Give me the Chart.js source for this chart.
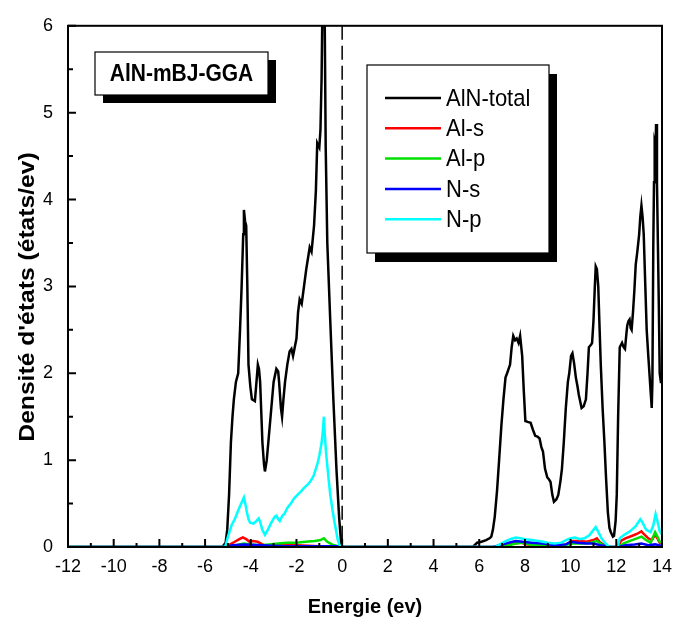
<!DOCTYPE html>
<html>
<head>
<meta charset="utf-8">
<script src="https://cdn.jsdelivr.net/npm/chart.js@4.4.1/dist/chart.umd.min.js"></script>
<style>
  html, body { margin: 0; padding: 0; background: #fff; }
  #wrap { width: 682px; height: 624px; position: relative; }
</style>
</head>
<body>
<div id="wrap"><canvas id="dos"></canvas></div>
<script>
// Density of states of AlN (mBJ-GGA): [energy (eV), DOS]
const totalDos = [
  [-12, 0], [-5.25, 0], [-5.1, 0.05], [-5.03, 0.2], [-4.95, 0.6], [-4.87, 1.2], [-4.8, 1.5],
  [-4.74, 1.7], [-4.65, 1.9], [-4.55, 2.0], [-4.47, 2.5], [-4.4, 3.0], [-4.33, 3.6], [-4.3, 3.88],
  [-4.25, 3.75], [-4.2, 3.7], [-4.15, 3.0], [-4.1, 2.1], [-4.02, 1.85], [-3.95, 1.7], [-3.82, 1.68],
  [-3.75, 1.9], [-3.69, 2.1], [-3.64, 2.05], [-3.59, 1.9], [-3.49, 1.2], [-3.42, 0.95], [-3.38, 0.87],
  [-3.3, 1.0], [-3.2, 1.3], [-3.1, 1.6], [-3.0, 1.9], [-2.88, 2.05], [-2.8, 2.02], [-2.76, 1.9],
  [-2.68, 1.6], [-2.63, 1.5], [-2.57, 1.7], [-2.5, 1.9], [-2.4, 2.1], [-2.3, 2.25], [-2.22, 2.28],
  [-2.15, 2.2], [-2.0, 2.4], [-1.93, 2.7], [-1.86, 2.85], [-1.77, 2.8], [-1.67, 3.0], [-1.57, 3.2],
  [-1.48, 3.35], [-1.42, 3.45], [-1.34, 3.4], [-1.23, 3.7], [-1.15, 4.1], [-1.09, 4.65], [-1.0, 4.6],
  [-0.95, 4.8], [-0.9, 5.4], [-0.86, 6.3], [-0.77, 6.3], [-0.72, 4.6], [-0.65, 3.5], [-0.52, 2.6],
  [-0.38, 1.67], [-0.25, 0.9], [-0.13, 0.33], [-0.03, 0],
  [5.72, 0], [5.91, 0.05], [6.1, 0.06], [6.3, 0.08], [6.45, 0.1], [6.53, 0.12], [6.6, 0.2],
  [6.68, 0.35], [6.78, 0.65], [6.87, 1.0], [6.97, 1.4], [7.06, 1.7], [7.15, 1.95], [7.22, 2.0],
  [7.35, 2.1], [7.42, 2.3], [7.49, 2.43], [7.57, 2.38], [7.64, 2.4], [7.72, 2.35], [7.79, 2.43],
  [7.88, 2.2], [7.95, 1.8], [8.02, 1.45], [8.12, 1.44], [8.25, 1.43], [8.35, 1.35], [8.45, 1.28],
  [8.55, 1.27], [8.64, 1.25], [8.72, 1.15], [8.79, 1.1], [8.88, 0.9], [8.98, 0.8], [9.05, 0.78],
  [9.12, 0.75], [9.2, 0.6], [9.27, 0.52], [9.38, 0.55], [9.46, 0.6], [9.55, 0.75], [9.62, 0.9],
  [9.7, 1.2], [9.79, 1.6], [9.88, 1.9], [9.94, 2.0], [10.02, 2.2], [10.08, 2.23], [10.15, 2.12],
  [10.23, 1.95], [10.3, 1.85], [10.36, 1.75], [10.48, 1.6], [10.57, 1.62], [10.67, 1.7], [10.74, 2.0],
  [10.8, 2.3], [10.9, 2.33], [10.94, 2.35], [11.0, 2.6], [11.06, 3.0], [11.1, 3.23], [11.15, 3.2],
  [11.21, 3.0], [11.27, 2.5], [11.32, 2.1], [11.4, 1.6], [11.48, 1.2], [11.55, 0.8], [11.63, 0.4],
  [11.7, 0.22], [11.76, 0.17], [11.85, 0.12], [11.9, 0.13], [11.97, 0.3], [12.02, 0.6], [12.08, 1.5],
  [12.15, 2.3], [12.25, 2.35], [12.32, 2.3], [12.38, 2.28], [12.44, 2.45], [12.48, 2.55], [12.53, 2.6],
  [12.58, 2.62], [12.63, 2.52], [12.67, 2.5], [12.73, 2.7], [12.79, 2.95], [12.85, 3.25], [12.92, 3.4],
  [13.0, 3.6], [13.05, 3.8], [13.1, 3.93], [13.15, 3.8], [13.2, 3.6], [13.27, 3.0], [13.33, 2.5],
  [13.4, 2.2], [13.45, 2.0], [13.5, 1.8], [13.55, 1.6], [13.58, 1.9], [13.62, 3.5], [13.65, 4.2],
  [13.68, 4.65], [13.72, 4.6], [13.74, 4.87], [13.78, 4.2], [13.82, 3.5], [13.86, 2.8], [13.9, 2.0],
  [13.95, 1.9], [14, 1.9]
];
const alSDos = [
  [-12, 0], [-5.05, 0], [-4.9, 0.03], [-4.7, 0.06], [-4.5, 0.09], [-4.35, 0.11], [-4.2, 0.09],
  [-4.05, 0.06], [-3.9, 0.07], [-3.7, 0.06], [-3.55, 0.04], [-3.4, 0.02], [-3.0, 0.02], [-2.5, 0.02],
  [-2.0, 0.02], [-1.5, 0.015], [-1.0, 0.01], [-0.5, 0.01], [-0.15, 0],
  [6.9, 0], [7.2, 0.02], [7.5, 0.04], [7.8, 0.05], [8.1, 0.03], [8.6, 0.02], [9.2, 0.01], [9.8, 0.03],
  [10.1, 0.07], [10.4, 0.07], [10.7, 0.06], [11.0, 0.08], [11.15, 0.1], [11.3, 0.05], [11.5, 0.02],
  [11.7, 0], [12.1, 0], [12.2, 0.07], [12.4, 0.1], [12.7, 0.13], [12.9, 0.15], [13.1, 0.18],
  [13.2, 0.15], [13.4, 0.1], [13.55, 0.08], [13.7, 0.14], [13.8, 0.1], [13.9, 0.05], [14, 0.04]
];
const alPDos = [
  [-12, 0], [-5.05, 0], [-4.8, 0.01], [-4.5, 0.03], [-4.3, 0.04], [-4.0, 0.03], [-3.6, 0.02],
  [-3.2, 0.03], [-2.8, 0.04], [-2.4, 0.05], [-2.0, 0.05], [-1.6, 0.06], [-1.2, 0.07], [-0.95, 0.08],
  [-0.8, 0.1], [-0.65, 0.06], [-0.45, 0.03], [-0.2, 0.01], [-0.05, 0],
  [7.0, 0], [7.3, 0.02], [7.6, 0.04], [7.9, 0.05], [8.2, 0.03], [8.6, 0.02], [9.2, 0.01], [9.7, 0.02],
  [10.1, 0.04], [10.5, 0.04], [10.9, 0.05], [11.15, 0.07], [11.3, 0.04], [11.5, 0.01], [11.7, 0],
  [12.1, 0], [12.3, 0.04], [12.6, 0.07], [12.9, 0.1], [13.1, 0.12], [13.3, 0.08], [13.5, 0.05],
  [13.7, 0.17], [13.8, 0.12], [13.9, 0.06], [14, 0.05]
];
const nSDos = [
  [-12, 0], [-5.05, 0], [-4.8, 0.02], [-4.3, 0.03], [-3.5, 0.02], [-2.5, 0.01], [-1.0, 0.01],
  [-0.2, 0.01], [-0.05, 0],
  [6.6, 0], [6.9, 0.02], [7.3, 0.05], [7.6, 0.07], [7.9, 0.06], [8.3, 0.05], [8.8, 0.04], [9.3, 0.02],
  [9.8, 0.03], [10.0, 0.06], [10.3, 0.05], [10.7, 0.04], [11.0, 0.04], [11.3, 0.02], [11.6, 0.01],
  [11.75, 0], [12.1, 0], [12.4, 0.02], [12.8, 0.03], [13.1, 0.04], [13.4, 0.02], [13.7, 0.03], [14, 0.01]
];
const nPDos = [
  [-12, 0], [-5.12, 0], [-5.0, 0.12], [-4.84, 0.25], [-4.7, 0.32], [-4.55, 0.42], [-4.42, 0.5],
  [-4.3, 0.57], [-4.24, 0.5], [-4.17, 0.4], [-4.1, 0.32], [-4.03, 0.28], [-3.88, 0.27], [-3.75, 0.3],
  [-3.65, 0.33], [-3.58, 0.28], [-3.5, 0.2], [-3.38, 0.14], [-3.25, 0.2], [-3.1, 0.28], [-2.95, 0.35],
  [-2.88, 0.36], [-2.8, 0.32], [-2.73, 0.3], [-2.62, 0.36], [-2.53, 0.38], [-2.4, 0.45], [-2.25, 0.5],
  [-2.1, 0.56], [-1.96, 0.6], [-1.8, 0.64], [-1.67, 0.68], [-1.5, 0.72], [-1.38, 0.76], [-1.25, 0.82],
  [-1.09, 0.95], [-1.0, 1.05], [-0.9, 1.2], [-0.84, 1.35], [-0.8, 1.5], [-0.76, 1.3], [-0.71, 1.1],
  [-0.6, 0.8], [-0.52, 0.6], [-0.42, 0.42], [-0.33, 0.28], [-0.19, 0.08], [-0.08, 0],
  [6.7, 0], [6.9, 0.03], [7.1, 0.06], [7.35, 0.09], [7.6, 0.11], [7.8, 0.1], [8.0, 0.09], [8.3, 0.08],
  [8.6, 0.07], [9.0, 0.05], [9.3, 0.04], [9.6, 0.05], [9.8, 0.08], [10.0, 0.1], [10.2, 0.11],
  [10.4, 0.09], [10.6, 0.1], [10.8, 0.13], [10.95, 0.18], [11.1, 0.23], [11.2, 0.18], [11.35, 0.1],
  [11.5, 0.05], [11.65, 0.01], [11.75, 0], [12.05, 0], [12.15, 0.1], [12.35, 0.14], [12.6, 0.18],
  [12.85, 0.24], [13.05, 0.32], [13.15, 0.28], [13.3, 0.2], [13.5, 0.17], [13.62, 0.25], [13.72, 0.38],
  [13.8, 0.3], [13.9, 0.18], [14, 0.14]
];

const seriesLabels = ['AlN-total', 'Al-s', 'Al-p', 'N-s', 'N-p'];
const seriesData = [totalDos, alSDos, alPDos, nSDos, nPDos];
const seriesColors = ['#000000', '#ff0000', '#00e000', '#0000ff', '#00ffff'];
const drawOrder = [4, 3, 2, 1, 0]; // N-p sits on top, as in the original

const FONT = "'Liberation Sans', Arial, sans-serif";
const STRETCH = 1.12; // the original's lettering is a bit taller than wide

// text drawn a little taller than wide, like the scanned figure
function tallText(ctx, text, x, y) {
  ctx.save();
  ctx.translate(x, y);
  ctx.scale(1, STRETCH);
  ctx.fillText(text, 0, 0);
  ctx.restore();
}

// Frame, inward ticks, Fermi level, title box, legend box
const decorPlugin = {
  id: 'decor',
  afterDraw(chart) {
    const { ctx, chartArea: a, scales: { x, y } } = chart;
    ctx.save();

    // Fermi level
    ctx.strokeStyle = '#000';
    ctx.lineWidth = 1.5;
    ctx.setLineDash([14, 6]);
    const xf = x.getPixelForValue(0);
    ctx.beginPath();
    ctx.moveTo(xf, a.top);
    ctx.lineTo(xf, a.bottom);
    ctx.stroke();
    ctx.setLineDash([]);

    // inward ticks
    ctx.lineWidth = 2;
    ctx.beginPath();
    for (let v = -12; v <= 14; v++) {
      const px = x.getPixelForValue(v);
      const len = v % 2 === 0 ? 8 : 4;
      ctx.moveTo(px, a.bottom);
      ctx.lineTo(px, a.bottom - len);
    }
    for (let v = 0; v <= 6; v += 0.5) {
      const py = y.getPixelForValue(v);
      const len = Number.isInteger(v) ? 8 : 5;
      ctx.moveTo(a.left, py);
      ctx.lineTo(a.left + len, py);
    }
    ctx.stroke();

    // frame
    ctx.lineWidth = 2;
    ctx.strokeRect(a.left, a.top, a.right - a.left, a.bottom - a.top);

    // y axis title
    ctx.fillStyle = '#000';
    ctx.font = `bold 22px ${FONT}`;
    ctx.textAlign = 'center';
    ctx.textBaseline = 'middle';
    ctx.save();
    ctx.translate(28, 297);
    ctx.rotate(-Math.PI / 2);
    ctx.scale(STRETCH, 1);
    ctx.fillText("Densité d'états (états/ev)", 0, 0);
    ctx.restore();

    // title box
    const tb = { x: 95, y: 52, w: 173, h: 43 };
    ctx.fillStyle = '#000';
    ctx.fillRect(tb.x + 8, tb.y + 8, tb.w, tb.h);
    ctx.fillStyle = '#fff';
    ctx.fillRect(tb.x, tb.y, tb.w, tb.h);
    ctx.lineWidth = 1.2;
    ctx.strokeStyle = '#000';
    ctx.strokeRect(tb.x, tb.y, tb.w, tb.h);
    ctx.fillStyle = '#000';
    ctx.font = `bold 21px ${FONT}`;
    ctx.textAlign = 'center';
    tallText(ctx, 'AlN-mBJ-GGA', tb.x + tb.w / 2, tb.y + tb.h / 2 + 1);

    // legend box
    const lb = { x: 367, y: 65, w: 182, h: 188 };
    ctx.fillStyle = '#000';
    ctx.fillRect(lb.x + 8, lb.y + 9, lb.w, lb.h);
    ctx.fillStyle = '#fff';
    ctx.fillRect(lb.x, lb.y, lb.w, lb.h);
    ctx.strokeRect(lb.x, lb.y, lb.w, lb.h);
    ctx.font = `22px ${FONT}`;
    ctx.textAlign = 'left';
    seriesLabels.forEach((label, i) => {
      const ry = 98 + i * 30.3;
      ctx.strokeStyle = seriesColors[i];
      ctx.lineWidth = 2.5;
      ctx.beginPath();
      ctx.moveTo(385, ry);
      ctx.lineTo(441, ry);
      ctx.stroke();
      ctx.fillStyle = '#000';
      tallText(ctx, label, 446, ry + 1);
    });

    ctx.restore();
  }
};

const datasets = seriesLabels.map((label, i) => ({
  label,
  data: seriesData[i].map(p => ({ x: p[0], y: p[1] })),
  borderColor: seriesColors[i],
  borderWidth: 2.5,
  pointRadius: 0,
  tension: 0,
  fill: false,
  order: drawOrder[i]
}));

new Chart(document.getElementById('dos').getContext('2d'), {
  type: 'line',
  data: { datasets },
  options: {
    responsive: true,
    maintainAspectRatio: false,
    animation: false,
    layout: { padding: { top: 14, right: 20, left: 0, bottom: 0 } },
    plugins: { legend: { display: false }, tooltip: { enabled: false } },
    scales: {
      x: {
        type: 'linear',
        min: -12,
        max: 14,
        grid: { display: false, drawTicks: false },
        border: { display: false },
        ticks: {
          stepSize: 2,
          color: '#000',
          padding: 9,
          font: { family: FONT, size: 18 }
        },
        title: {
          display: true,
          text: 'Energie (ev)',
          color: '#000',
          font: { family: FONT, size: 20, weight: 'bold' },
          padding: { top: 0, bottom: 5 }
        },
        afterFit(scale) { scale.height = 77; }
      },
      y: {
        min: 0,
        max: 6,
        grid: { display: false, drawTicks: false },
        border: { display: false },
        ticks: {
          stepSize: 1,
          color: '#000',
          padding: 15,
          font: { family: FONT, size: 18 }
        },
        afterFit(scale) { scale.width = 68; }
      }
    }
  },
  plugins: [decorPlugin]
});
</script>
</body>
</html>
